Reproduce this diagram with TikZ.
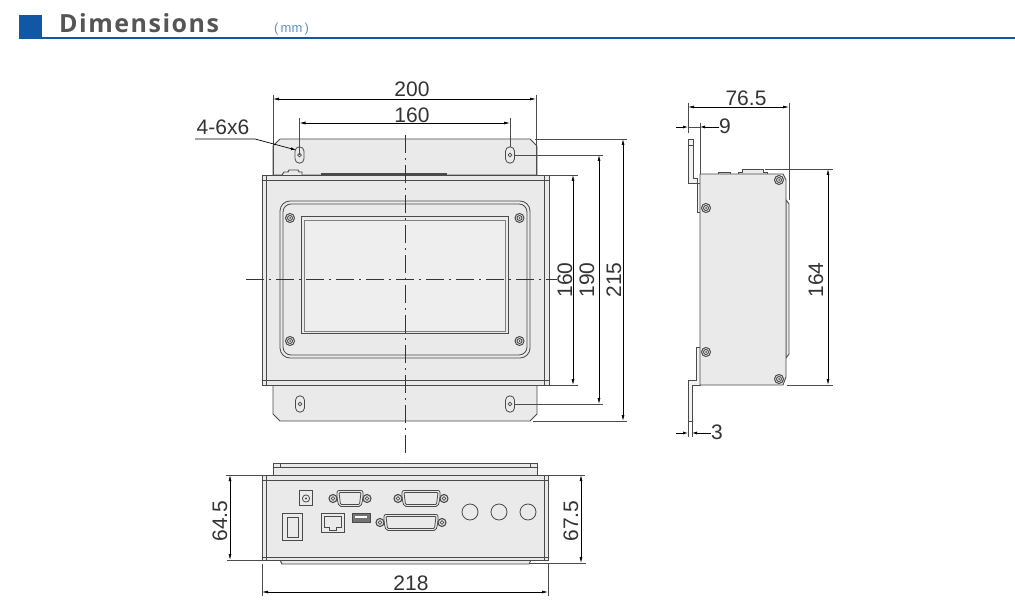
\documentclass[tikz,border=0pt]{standalone}
\usepackage{fontspec}
\usepackage{xcolor}
\usetikzlibrary{arrows.meta}
\setmainfont{Liberation Sans}
\newfontfamily\titlefont[LetterSpace=6]{Open Sans}
\definecolor{headblue}{HTML}{1257A6}
\definecolor{titlegray}{HTML}{555555}
\definecolor{unitblue}{HTML}{5C8FC8}
\definecolor{bodygray}{HTML}{EAEAEA}
\definecolor{edgegray}{HTML}{4A4A4A}
\tikzset{
    part/.style={draw=edgegray, fill=bodygray, line width=0.9pt},
    partline/.style={draw=edgegray, line width=0.8pt},
    heavy/.style={draw=edgegray, line width=1pt},
    extline/.style={draw=black!70, line width=0.7pt},
    dimline/.style={draw=black, line width=0.7pt, {Latex[length=6pt,width=3pt]}-{Latex[length=6pt,width=3pt]}},
    outarrow/.style={draw=black, line width=0.7pt, -{Latex[length=5pt,width=3pt]}},
    centerline/.style={draw=black!80, line width=0.7pt, dash pattern=on 18pt off 5pt on 2pt off 5pt},
    dimlabel/.style={inner sep=0pt, text=black!80, font=\fontsize{21}{21}\selectfont},
}
% screw seen from the front
\newcommand{\screwmark}[1]{
    \draw[edgegray, line width=1pt, fill=bodygray] #1 circle (4.5);
    \draw[edgegray, line width=0.9pt, fill=bodygray!70] #1 circle (2.5);
    \fill[edgegray] #1 circle (1);
}
% slotted hole
\newcommand{\slothole}[2]{
    \begin{scope}[shift={(#1,#2)}]
        \draw[edgegray, line width=0.8pt, rounded corners=4.4pt] (-4.5,-8.2) rectangle (4.5,8.2);
        \draw[edgegray, line width=0.6pt] (0,0) circle (1.9);
    \end{scope}
}
% sub-D connector with two screws, args: x, y, half width
\newcommand{\subdconn}[3]{
    \begin{scope}[shift={(#1,#2)}]
        \draw[partline, fill=bodygray, rounded corners=2pt] (-#3-1,-8) -- (#3+1,-8) -- (#3+1,0) -- (#3-1,8) -- (-#3+1,8) -- (-#3-1,0) -- cycle;
        \draw[partline, rounded corners=1pt] (-#3+1,-6) -- (#3-1,-6) -- (#3-2.5,6) -- (-#3+2.5,6) -- cycle;
        \foreach \sx in {-1,1} {
            \draw[edgegray, line width=1.1pt, fill=bodygray] (\sx*#3+\sx*5,0) circle (4);
            \draw[edgegray, line width=0.8pt] (\sx*#3+\sx*5,0) circle (1.9);
        }
    \end{scope}
}
\begin{document}
\begin{tikzpicture}[x=1pt, y=-1pt]
    \useasboundingbox (0,0) rectangle (1015,612);

    % heading
    \fill[headblue] (19,15) rectangle (42,39);
    \draw[headblue, line width=2pt] (19,38) -- (1015,38);
    \node[anchor=west, inner sep=0pt, text=titlegray] (title) at (59,23) {\fontsize{25}{25}\titlefont\bfseries Dimensions};
    \node[anchor=west, inner sep=0pt, text=unitblue] (unit) at (274,29) {\fontsize{13}{13}\selectfont(\,mm\,)};

    % front view
    \draw[part] (273,175) -- (273,146) -- (280,139) -- (530,139) -- (537,146) -- (537,175) -- cycle;
    \draw[part] (273,385) -- (273,414) -- (280,421) -- (530,421) -- (537,414) -- (537,385) -- cycle;
    \foreach \hx/\hy in {299.5/155,510/155,300/404,510/404} {
        \slothole{\hx}{\hy}
    }
    \fill[edgegray] (321,173) rectangle (447,175.5);
    \draw[part] (282,175) -- (284,172) -- (288,172) -- (289,170) -- (298,170) -- (299,172) -- (302,172) -- (302,175);
    \draw[part] (262,175) rectangle (549,385);
    \draw[partline] (266,175) -- (266,385) (544,175) -- (544,385) (262,180) -- (549,180) (262,380) -- (549,380);
    \draw[partline, rounded corners=10pt] (280,201) rectangle (530,358);
    \draw[partline, rounded corners=8pt] (283,204) rectangle (527,355);
    \draw[heavy] (301,217) rectangle (508,334);
    \draw[partline, draw=black!50, fill=bodygray!80] (304,220) rectangle (505,331);
    \foreach \screw in {(290,218),(519.5,218),(290,341),(519.5,341)} {
        \screwmark{\screw}
    }
    \draw[centerline] (405,135) -- (405,458);
    \draw[centerline] (246,279) -- (557,279);

    % rear view
    \draw[part] (273,475) -- (273,463) -- (537,463) -- (537,475);
    \draw[partline] (273,467) -- (537,467) (280,463) -- (280,467) (530,463) -- (530,467);
    \draw[part] (280,560) -- (282,564) -- (529,564) -- (531,560);
    \draw[part] (262,475) rectangle (548,560);
    \draw[partline] (266,475) -- (266,560) (544,475) -- (544,560) (262,480) -- (548,480) (262,557) -- (548,557);
    \draw[partline] (299,490) rectangle (312,505);
    \draw[partline] (306,498.5) circle (3.6);
    \fill[edgegray] (306,498.5) circle (1.2);
    \subdconn{350}{498.5}{12}
    \subdconn{421}{498.5}{18}
    \subdconn{411}{522.5}{26}
    \draw[partline] (282,513) rectangle (302,540);
    \draw[partline] (287,517) rectangle (298,537);
    \draw[heavy] (321,513) rectangle (344,532);
    \draw[partline] (324,516) -- (341,516) -- (341,527) -- (336,527) -- (336,530) -- (329,530) -- (329,527) -- (324,527) -- cycle;
    \draw[heavy, fill=black!55] (352,513) rectangle (370,522);
    \fill[white] (355,516) rectangle (367,518);
    \foreach \cx in {470,499,528} {
        \draw[partline, fill=bodygray] (\cx,512) circle (8);
    }

    % side view
    \draw[part, fill=bodygray!60] (688,139) -- (693,139) -- (693,178) -- (697,178) -- (697,212) -- (700,212) -- (700,183) -- (688,183) -- cycle;
    \draw[partline] (688,145) -- (693,145);
    \draw[part, fill=bodygray!60] (696,347) -- (700,347) -- (700,385) -- (692,385) -- (692,421) -- (688,421) -- (688,380) -- (696,380) -- cycle;
    \draw[part] (786,200) -- (789,204) -- (789,354) -- (786,358) -- cycle;
    \draw[part] (718,174) -- (718,172.5) -- (730,172.5) -- (730,174);
    \draw[part] (738,174) -- (738,172) -- (742,172) -- (742,169) -- (763,169) -- (763,172) -- (767,172) -- (767,174);
    \draw[part] (700,174) -- (783,174) -- (786,180) -- (786,377) -- (783,385) -- (700,385) -- cycle;
    \foreach \screw in {(706,208),(706,352),(779,180),(779,379)} {
        \screwmark{\screw}
    }

    % named ends for the dimensions
    \coordinate (ta) at (273,99);
    \coordinate (tb) at (536,99);
    \coordinate (tc) at (299.5,123);
    \coordinate (td) at (510,123);
    \coordinate (ra) at (573,175);
    \coordinate (rb) at (573,385);
    \coordinate (rc) at (599,155);
    \coordinate (rd) at (599,404);
    \coordinate (re) at (623,139);
    \coordinate (rf) at (623,421);
    \coordinate (la) at (230,475);
    \coordinate (lb) at (230,560);
    \coordinate (ma) at (581,475);
    \coordinate (mb) at (581,563);
    \coordinate (ba) at (262,592);
    \coordinate (bb) at (548,592);
    \coordinate (sa) at (688,107);
    \coordinate (sb) at (789,107);
    \coordinate (sc) at (828,169);
    \coordinate (sd) at (828,385);

    % extension lines
    \draw[extline] (273,95) -- (273,175) (536,95) -- (536,175);
    \draw[extline] (299.5,118) -- (299.5,155) (510,118) -- (510,147);
    \draw[extline] (535,139) -- (627,139) (533,421) -- (627,421);
    \draw[extline] (514,155) -- (603,155) (514,404) -- (603,404);
    \draw[extline] (537,175) -- (578,175) (549,385) -- (578,385);
    \draw[extline] (226,475) -- (262,475) (227,560) -- (262,560);
    \draw[extline] (548,475) -- (585,475) (530,563) -- (586,563);
    \draw[extline] (262,564) -- (262,596) (548,564) -- (548,596);
    \draw[extline] (688,103) -- (688,133) (789,103) -- (789,200);
    \draw[extline] (700,123) -- (700,174);
    \draw[extline] (765,169) -- (833,169) (787,385) -- (833,385);
    \draw[extline] (688,421) -- (688,437) (692,421) -- (692,437);

    % dimension lines
    \draw[dimline] (ta) -- (tb);
    \draw[dimline] (tc) -- (td);
    \draw[dimline] (ra) -- (rb);
    \draw[dimline] (rc) -- (rd);
    \draw[dimline] (re) -- (rf);
    \draw[dimline] (la) -- (lb);
    \draw[dimline] (ma) -- (mb);
    \draw[dimline] (ba) -- (bb);
    \draw[dimline] (sa) -- (sb);
    \draw[dimline] (sc) -- (sd);

    % outside arrows for the narrow ones
    \coordinate (na) at (676,127);
    \coordinate (nb) at (688,127);
    \coordinate (nc) at (719,127);
    \coordinate (nd) at (700,127);
    \draw[outarrow] (na) -- (nb);
    \draw[outarrow] (nc) -- (nd);
    \draw[extline] (nb) -- (nd);
    \coordinate (oa) at (676,433);
    \coordinate (ob) at (688,433);
    \coordinate (oc) at (711,433);
    \coordinate (od) at (692,433);
    \draw[outarrow] (oa) -- (ob);
    \draw[outarrow] (oc) -- (od);

    % hole leader
    \node[dimlabel] (holes) at (223,127) {4-6x6};
    \coordinate (la1) at (195,139);
    \coordinate (la2) at (255,139);
    \coordinate (la3) at (296,150);
    \draw[outarrow] (la1) -- (la2) -- (la3);

    % labels
    \node[dimlabel] (w200) at (412,89) {200};
    \node[dimlabel] (w160) at (412,115) {160};
    \node[dimlabel, rotate=90] (h160) at (565,280) {160};
    \node[dimlabel, rotate=90] (h190) at (587,280) {190};
    \node[dimlabel, rotate=90] (h215) at (614,280) {215};
    \node[dimlabel, rotate=90] (h645) at (220,521) {64.5};
    \node[dimlabel, rotate=90] (h675) at (571,521) {67.5};
    \node[dimlabel] (w218) at (411,583) {218};
    \node[dimlabel] (d765) at (746,98) {76.5};
    \node[dimlabel] (d9) at (725,126) {9};
    \node[dimlabel] (d3) at (717,432) {3};
    \node[dimlabel, rotate=90] (h164) at (816,280) {164};
\end{tikzpicture}
\end{document}
